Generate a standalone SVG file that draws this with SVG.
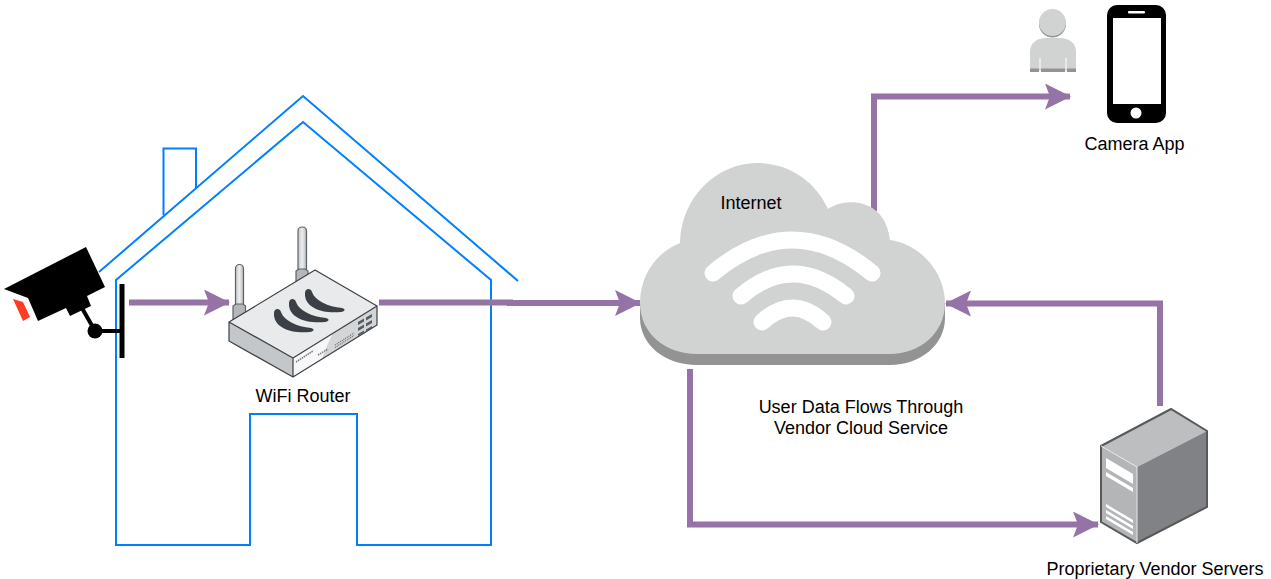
<svg xmlns="http://www.w3.org/2000/svg" width="1271" height="579" viewBox="0 0 1271 579">
<defs>
<marker id="arrow" markerUnits="userSpaceOnUse" viewBox="0 0 26 26" refX="25" refY="13" markerWidth="26" markerHeight="26" orient="auto"><path d="M0,0 L26,13 L0,26 L5,13 Z" fill="#9673a6"/></marker>
<linearGradient id="ant" x1="0" x2="1" y1="0" y2="0"><stop offset="0" stop-color="#c4c7ca"/><stop offset=".5" stop-color="#eceded"/><stop offset="1" stop-color="#b4b7ba"/></linearGradient>
<path id="swoosh" d="M274,313 C274,308 280,308 281,312 C284,321 297,326.500 311,328 C315,329 314,331.500 310,332 C292,334 273,328 274,313 Z" fill="#3b4046"/>
</defs>
<style>
.house{fill:none;stroke:#007fff;stroke-width:2}
.flow{fill:none;stroke:#9673a6;stroke-width:6;marker-end:url(#arrow)}
.label{font-family:"Liberation Sans",Arial,sans-serif;font-size:18px;fill:#000;text-anchor:middle}
.wifi{fill:none;stroke:#fff;stroke-width:17;stroke-linecap:round}
.stripe{fill:#fff}
.led{fill:#555a60}
.rim{stroke:#5d6268;stroke-width:1.200}
</style>
<rect width="1271" height="579" fill="#fff"/>
<g id="house">
<path class="house" d="M99,272 L303,96 L518,281"/>
<path class="house" d="M163.500,215 V148.500 H196 V188"/>
<path class="house" d="M116,280 L303,122 L491,280 V545 H357 V414 H250 V545 H116 Z"/>
</g>
<g id="connectors">
<path class="flow" d="M129,302.500 H229"/>
<path class="flow" d="M379,302.500 H510 V303 H640"/>
<path class="flow" d="M874,211 V96.500 H1070"/>
<path class="flow" d="M1160,406 V303.500 H946"/>
<path class="flow" d="M690,369 V524.500 H1098"/>
</g>
<g id="camera">
<path d="M4,289 L86,247 L105,287 L87,296 L91,306 L70,316 L66,308 L38,321 L28,298 Z" fill="#000"/>
<path d="M13,299 L23,302 L30,317 L23,321 Z" fill="#ff3b22"/>
<path d="M82,308 L95,331 H122" fill="none" stroke="#000" stroke-width="4"/>
<circle cx="95" cy="331" r="7.500" fill="#000"/>
<rect x="119.500" y="284" width="5" height="74" fill="#000"/>
</g>
<g id="router">
<rect class="rim" x="235.500" y="264.500" width="8" height="46" rx="4" fill="url(#ant)"/>
<path class="rim" d="M233,306 L236,304 H243 L245.500,306 V318 L233,325 Z" fill="#b4b7ba"/>
<rect class="rim" x="298" y="227" width="8.500" height="50" rx="4" fill="url(#ant)"/>
<path class="rim" d="M296,271 L299,269 H305 L308,271 V281 L296,288 Z" fill="#b4b7ba"/>
<path d="M229,322 L315,270 L377,306 L293,358 Z" fill="#e9eaeb"/>
<path d="M229,322 L293,358 V377 L229,341 Z" fill="#c4c7ca"/>
<path d="M293,358 L377,306 V325 L293,377 Z" fill="#f7f7f7"/>
<path d="M322,359 Q326,347 333,333 L377,306 V325 Z" fill="#d3d5d7"/>
<path d="M229,322 L315,270 L377,306 V325 L293,377 L229,341 Z M229,322 L293,358 L377,306 M293,358 V377" fill="none" stroke="#3b4046" stroke-width="1.200" stroke-linejoin="round"/>
<use href="#swoosh"/>
<use href="#swoosh" x="15" y="-10"/>
<use href="#swoosh" x="31" y="-20"/>
<path class="led" d="M358,322 l6,-3.500 v3 l-6,3.500 Z M366,317.500 l6,-3.500 v3 l-6,3.500 Z M358,328 l6,-3.500 v3 l-6,3.500 Z M366,323.500 l6,-3.500 v3 l-6,3.500 Z M358,334 l6,-3.500 v2 l-6,3.500 Z M366,329.500 l6,-3.500 v2 l-6,3.500 Z"/>
<path d="M335,345 L354,333 M335,347.500 L354,335.500" stroke="#666b71" stroke-width="1.200" stroke-dasharray="1 1" fill="none"/>
<path d="M296,362 L313,351 M318,355 L328,349" stroke="#777c82" stroke-width="1.500" stroke-dasharray="1.500 .8" fill="none"/>
<text class="label" x="303" y="402">WiFi Router</text>
</g>
<g id="cloud">
<path d="M640,318 C640,345 665,365 697,365 H890 C920,365 945,345 945,318 V303 H640 Z" fill="#939393"/>
<path d="M640,303 C640,275 657,252 680,243 C681,196 718,163 757,163 C790,163 816,182 828,209 C846,197 885,198 890,240 C920,244 945,272 945,303 C945,333 920,354 890,354 H697 C665,354 640,333 640,303 Z" fill="#d1d3d3"/>
<path class="wifi" d="M713,273 Q792,207 872,273"/>
<path class="wifi" d="M741,296 Q792,252 846,296"/>
<path class="wifi" d="M762,322 Q792,294 823,322"/>
<text class="label" x="751" y="209">Internet</text>
</g>
<text class="label" x="861" y="413">User Data Flows Through</text>
<text class="label" x="861" y="434">Vendor Cloud Service</text>
<g id="person">
<path d="M1030,72 V52 C1030,43 1037,38 1046,38 H1060 C1069,38 1076,43 1076,52 V72 Z" fill="#d1d3d3"/>
<rect x="1030" y="68.500" width="46" height="3.500" fill="#939393"/>
<path d="M1039.500,58 H1040.500 V68 L1041,72 H1039 L1039.500,68 Z M1065.500,58 H1066.500 V68 L1067,72 H1065 L1065.500,68 Z" fill="#fff"/>
<circle cx="1052.500" cy="24" r="13.500" fill="#939393"/>
<circle cx="1052.500" cy="22.500" r="13.500" fill="#d1d3d3"/>
</g>
<g id="phone">
<rect x="1107" y="5" width="59" height="118" rx="10" fill="#000"/>
<rect x="1113" y="18" width="48" height="86" fill="#fff"/>
<rect x="1128" y="11" width="17" height="2.500" rx="1" fill="#fff"/>
<circle cx="1136" cy="113" r="5.500" fill="#fff"/>
<text class="label" x="1134.500" y="150">Camera App</text>
</g>
<g id="server">
<path d="M1101,446 L1171,409 L1207,431 L1137,467 Z" fill="#bcbec0"/>
<path d="M1101,446 L1137,467 V543 L1101,522 Z" fill="#b3b5b7"/>
<path d="M1137,467 L1207,431 V507 L1137,543 Z" fill="#808285"/>
<path d="M1101,446 L1171,409 L1207,431 V507 L1137,543 L1101,522 Z" fill="none" stroke="#58595b" stroke-width="2"/>
<path d="M1101,446 L1137,467 V543" fill="none" stroke="#e6e7e8" stroke-width="1"/>
<path class="stripe" d="M1106,458 L1133,474 V484 L1106,468 Z M1106,472 L1133,488 V492 L1106,476 Z"/>
<path class="stripe" d="M1106,504 L1133,520 V523 L1106,507 Z M1106,510 L1133,526 V529 L1106,513 Z M1106,516 L1133,532 V535 L1106,519 Z"/>
<text class="label" x="1155" y="575">Proprietary Vendor Servers</text>
</g>
</svg>
